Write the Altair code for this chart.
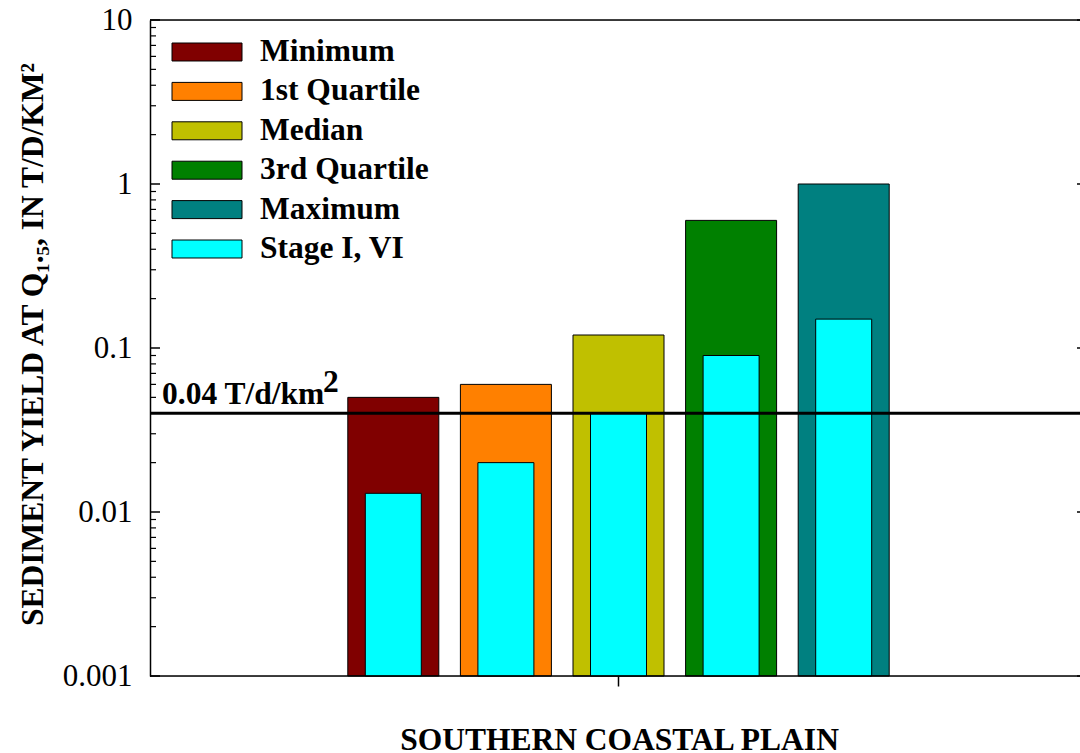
import altair as alt
import pandas as pd

# Sediment yield statistics for the Southern Coastal Plain (T/d/km^2)
categories = ["Minimum", "1st Quartile", "Median", "3rd Quartile", "Maximum"]
yield_values = [0.05, 0.06, 0.12, 0.6, 1.0]
stage_values = [0.013, 0.02, 0.04, 0.09, 0.15]
stage_label = "Stage I, VI"
series_colors = ["#800000", "#FF8000", "#C0C000", "#008000", "#008080", "#00FFFF"]
threshold = 0.04
major_ticks = [0.001, 0.01, 0.1, 1, 10]
minor_ticks = [m * d for d in [0.001, 0.01, 0.1, 1] for m in range(2, 10)]

W, H = 930, 656
FONT = "Liberation Serif"
BOLD_SIZE = 31.5

bars = pd.DataFrame({"group": categories, "series": categories, "value": yield_values})
stage = pd.DataFrame({"group": categories, "series": [stage_label] * len(categories),
                      "value": stage_values})
majors = pd.DataFrame({"value": major_ticks})
minors = pd.DataFrame({"value": minor_ticks})
line_df = pd.DataFrame({"value": [threshold]})
edge_df = pd.DataFrame({"value": [major_ticks[0], major_ticks[-1]]})

y_scale = alt.Scale(type="log", domain=[major_ticks[0], major_ticks[-1]])
# the five bars occupy the middle of the frame
x_scale = alt.Scale(domain=categories, range=[187, 750], paddingInner=0, paddingOuter=0)
color_scale = alt.Scale(domain=categories + [stage_label], range=series_colors)

x_enc = alt.X(
    "group:N", sort=categories, scale=x_scale,
    axis=alt.Axis(values=["Median"], labels=False, ticks=True, tickSize=10,
                  tickColor="black", tickWidth=1.5, domain=False,
                  title="SOUTHERN COASTAL PLAIN", titleFont=FONT, titleFontSize=BOLD_SIZE,
                  titleFontWeight="bold", titleColor="black", titleX=469, titleY=73,
                  titleBaseline="alphabetic", titleAlign="center"),
)
y_enc = alt.Y(
    "value:Q", scale=y_scale,
    axis=alt.Axis(values=major_ticks, format="~g", ticks=False, grid=False,
                  labelFont=FONT, labelFontSize=31, labelColor="black", labelPadding=18,
                  domainColor="black", domainWidth=1.5,
                  title="SEDIMENT YIELD AT Q\u2081.\u2085, IN T/D/KM\u00b2",
                  titleFont=FONT, titleFontSize=BOLD_SIZE, titleFontWeight="bold",
                  titleColor="black", titleAngle=270, titleX=-108, titleY=324,
                  titleBaseline="alphabetic", titleAlign="center"),
)
y_plain = alt.Y("value:Q", scale=y_scale)

# wide flat swatch: the path spans 4 units across, so the entry size stays small
color_enc = alt.Color(
    "series:N", scale=color_scale,
    legend=alt.Legend(title=None, orient="none", legendX=39, legendY=14,
                      symbolType="M-2,-0.514H2V0.514H-2Z", symbolSize=1225,
                      symbolStrokeColor="black", symbolStrokeWidth=1, symbolOpacity=1,
                      labelFont=FONT, labelFontSize=BOLD_SIZE, labelFontWeight="bold",
                      labelColor="black", labelOffset=35, labelLimit=400,
                      rowPadding=5.4, padding=0),
)

outer = alt.Chart(bars).mark_bar(size=91, stroke="black", strokeWidth=1, opacity=1).encode(
    x=x_enc, y=y_enc, y2=alt.datum(major_ticks[0]), color=color_enc
)
inner = alt.Chart(stage).mark_bar(size=56, stroke="black", strokeWidth=1, opacity=1).encode(
    x=alt.X("group:N", sort=categories, scale=x_scale),
    y=y_plain,
    y2=alt.datum(major_ticks[0]),
    color=alt.Color("series:N", scale=color_scale),
)

ref_line = alt.Chart(line_df).mark_rule(color="black", strokeWidth=3).encode(y=y_plain)
ref_text = alt.Chart(line_df).mark_text(
    font=FONT, fontSize=BOLD_SIZE, fontWeight="bold", align="left", baseline="alphabetic",
    dy=-9, color="black"
).encode(x=alt.value(12), y=y_plain, text=alt.value(f"{threshold} T/d/km"))
ref_sup = alt.Chart(line_df).mark_text(
    font=FONT, fontSize=BOLD_SIZE, fontWeight="bold", align="left", baseline="alphabetic",
    dy=-21, color="black"
).encode(x=alt.value(173), y=y_plain, text=alt.value("2"))

# inward-pointing ticks on the left and right frame edges
left_major = alt.Chart(majors).mark_rule(color="black", strokeWidth=1.5).encode(
    y=y_plain, x=alt.value(0), x2=alt.value(10)
)
left_minor = alt.Chart(minors).mark_rule(color="black", strokeWidth=1.2).encode(
    y=y_plain, x=alt.value(0), x2=alt.value(6)
)
right_major = alt.Chart(majors).mark_rule(color="black", strokeWidth=1.5).encode(
    y=y_plain, x=alt.value(W - 3), x2=alt.value(W)
)
# top and bottom frame edges
edges = alt.Chart(edge_df).mark_rule(color="black", strokeWidth=1.5).encode(
    y=y_plain, x=alt.value(0), x2=alt.value(W)
)

chart = alt.layer(
    outer, inner, left_minor, left_major, right_major, edges, ref_line, ref_text, ref_sup
).properties(
    width=W, height=H, autosize="none",
    padding={"left": 150, "top": 20, "right": 0, "bottom": 77},
).configure_view(strokeWidth=0).configure(font=FONT, background="white")

chart.save("out.html", embed_options={"renderer": "svg", "actions": False})
